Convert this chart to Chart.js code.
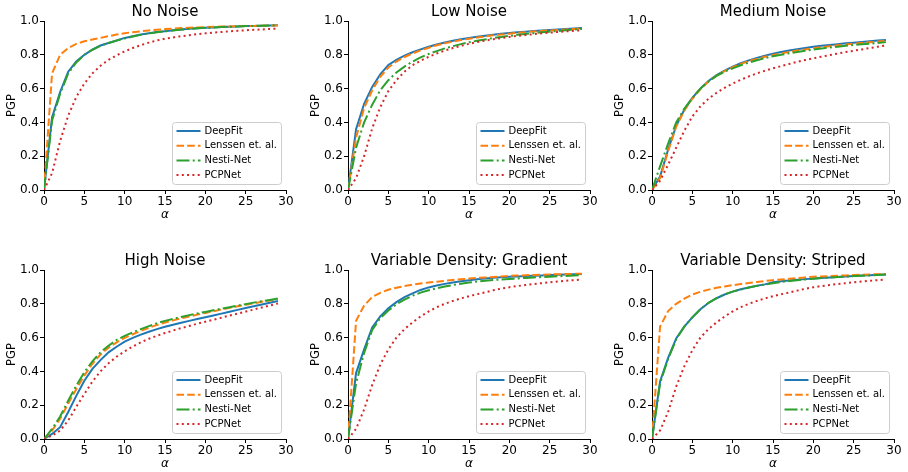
<!DOCTYPE html>
<html>
<head>
<meta charset="utf-8">
<script src="https://cdn.jsdelivr.net/npm/chart.js@4.4.0/dist/chart.umd.min.js"></script>
<style>
  body { margin: 0; background: #fff; width: 908px; height: 472px; overflow: hidden; position: relative; }
  canvas { position: absolute; }
</style>
</head>
<body>
<canvas id="p1" width="300" height="222" style="left:0px;top:0px"></canvas>
<canvas id="p2" width="300" height="222" style="left:304px;top:0px"></canvas>
<canvas id="p3" width="300" height="222" style="left:608px;top:0px"></canvas>
<canvas id="p4" width="300" height="222" style="left:0px;top:249px"></canvas>
<canvas id="p5" width="300" height="222" style="left:304px;top:249px"></canvas>
<canvas id="p6" width="300" height="222" style="left:608px;top:249px"></canvas>
<script>
// angle thresholds (x) shared by every panel
const alphas = [0, 1, 2, 3, 4, 5, 6, 7, 8, 9, 10, 11, 12, 13, 14, 15, 16, 17, 18, 19, 20, 21, 22, 23, 24, 25, 26, 27, 28, 29];
const xTicks = [0, 5, 10, 15, 20, 25, 30];
const yTicks = [0, 0.2, 0.4, 0.6, 0.8, 1.0];
const methods = ['DeepFit', 'Lenssen et. al.', 'Nesti-Net', 'PCPNet'];
const titles = ['No Noise', 'Low Noise', 'Medium Noise', 'High Noise', 'Variable Density: Gradient', 'Variable Density: Striped'];

// No Noise
const noNoiseDeepFit = [0, 0.43, 0.58, 0.70, 0.76, 0.80, 0.83, 0.855, 0.87, 0.885, 0.90, 0.91, 0.92, 0.928, 0.935, 0.94, 0.945, 0.95, 0.954, 0.957, 0.96, 0.962, 0.964, 0.966, 0.968, 0.97, 0.971, 0.972, 0.973, 0.975];
const noNoiseLenssen = [0, 0.69, 0.80, 0.84, 0.865, 0.88, 0.89, 0.90, 0.91, 0.92, 0.928, 0.934, 0.939, 0.944, 0.948, 0.952, 0.955, 0.958, 0.96, 0.962, 0.964, 0.966, 0.967, 0.968, 0.969, 0.97, 0.971, 0.972, 0.973, 0.974];
const noNoiseNesti = [0, 0.41, 0.57, 0.69, 0.755, 0.80, 0.83, 0.853, 0.87, 0.884, 0.897, 0.908, 0.918, 0.926, 0.933, 0.939, 0.944, 0.949, 0.953, 0.957, 0.96, 0.962, 0.964, 0.966, 0.968, 0.97, 0.971, 0.972, 0.973, 0.975];
const noNoisePCP = [0, 0.10, 0.29, 0.44, 0.55, 0.63, 0.69, 0.735, 0.77, 0.797, 0.82, 0.84, 0.857, 0.872, 0.885, 0.895, 0.903, 0.91, 0.916, 0.922, 0.927, 0.931, 0.935, 0.939, 0.942, 0.945, 0.948, 0.95, 0.953, 0.955];

// Low Noise
const lowDeepFit = [0, 0.36, 0.51, 0.61, 0.685, 0.74, 0.77, 0.795, 0.815, 0.832, 0.848, 0.861, 0.873, 0.883, 0.892, 0.90, 0.907, 0.913, 0.919, 0.924, 0.929, 0.933, 0.937, 0.941, 0.944, 0.947, 0.95, 0.953, 0.956, 0.958];
const lowLenssen = [0, 0.31, 0.485, 0.59, 0.67, 0.725, 0.76, 0.787, 0.808, 0.826, 0.842, 0.856, 0.868, 0.878, 0.887, 0.895, 0.902, 0.909, 0.915, 0.92, 0.925, 0.93, 0.934, 0.938, 0.941, 0.944, 0.947, 0.95, 0.953, 0.955];
const lowNesti = [0, 0.25, 0.40, 0.505, 0.59, 0.65, 0.695, 0.73, 0.76, 0.785, 0.805, 0.822, 0.838, 0.851, 0.863, 0.874, 0.883, 0.891, 0.899, 0.906, 0.912, 0.918, 0.923, 0.928, 0.933, 0.937, 0.941, 0.945, 0.949, 0.953];
const lowPCP = [0, 0.07, 0.20, 0.365, 0.49, 0.585, 0.65, 0.70, 0.738, 0.765, 0.788, 0.808, 0.825, 0.84, 0.853, 0.865, 0.875, 0.884, 0.892, 0.899, 0.906, 0.912, 0.917, 0.922, 0.927, 0.931, 0.935, 0.939, 0.942, 0.945];

// Medium Noise
const medDeepFit = [0, 0.08, 0.24, 0.38, 0.475, 0.545, 0.60, 0.645, 0.68, 0.707, 0.73, 0.75, 0.767, 0.782, 0.795, 0.806, 0.816, 0.825, 0.833, 0.84, 0.847, 0.853, 0.858, 0.863, 0.868, 0.872, 0.876, 0.88, 0.884, 0.888];
const medLenssen = [0, 0.07, 0.23, 0.375, 0.47, 0.54, 0.597, 0.642, 0.677, 0.704, 0.727, 0.746, 0.762, 0.776, 0.788, 0.799, 0.808, 0.817, 0.825, 0.832, 0.839, 0.845, 0.851, 0.856, 0.861, 0.866, 0.87, 0.874, 0.878, 0.882];
const medNesti = [0, 0.14, 0.275, 0.40, 0.48, 0.545, 0.60, 0.642, 0.675, 0.70, 0.72, 0.738, 0.754, 0.768, 0.78, 0.791, 0.80, 0.809, 0.817, 0.824, 0.831, 0.837, 0.843, 0.848, 0.853, 0.858, 0.862, 0.866, 0.87, 0.875];
const medPCP = [0, 0.055, 0.15, 0.25, 0.35, 0.435, 0.495, 0.54, 0.575, 0.605, 0.63, 0.652, 0.672, 0.69, 0.706, 0.72, 0.733, 0.746, 0.758, 0.769, 0.779, 0.789, 0.798, 0.807, 0.816, 0.824, 0.832, 0.84, 0.848, 0.856];

// High Noise
const highDeepFit = [0, 0.03, 0.07, 0.16, 0.255, 0.345, 0.415, 0.467, 0.513, 0.546, 0.576, 0.598, 0.618, 0.635, 0.65, 0.664, 0.676, 0.688, 0.699, 0.71, 0.72, 0.731, 0.742, 0.753, 0.764, 0.775, 0.786, 0.796, 0.806, 0.816];
const highLenssen = [0, 0.05, 0.12, 0.21, 0.295, 0.375, 0.445, 0.50, 0.54, 0.572, 0.598, 0.62, 0.64, 0.658, 0.675, 0.689, 0.702, 0.714, 0.725, 0.736, 0.746, 0.756, 0.766, 0.776, 0.785, 0.794, 0.803, 0.812, 0.82, 0.828];
const highNesti = [0, 0.06, 0.133, 0.227, 0.315, 0.395, 0.46, 0.513, 0.552, 0.586, 0.61, 0.631, 0.65, 0.668, 0.685, 0.699, 0.711, 0.722, 0.733, 0.743, 0.752, 0.762, 0.771, 0.78, 0.789, 0.798, 0.807, 0.815, 0.823, 0.831];
const highPCP = [0, 0.02, 0.05, 0.11, 0.19, 0.266, 0.34, 0.40, 0.448, 0.487, 0.519, 0.547, 0.572, 0.593, 0.611, 0.627, 0.642, 0.656, 0.669, 0.682, 0.694, 0.706, 0.718, 0.73, 0.742, 0.754, 0.766, 0.778, 0.79, 0.802];

// Variable Density: Gradient
const gradDeepFit = [0, 0.39, 0.53, 0.66, 0.725, 0.773, 0.81, 0.84, 0.862, 0.882, 0.897, 0.908, 0.918, 0.926, 0.933, 0.94, 0.945, 0.95, 0.954, 0.957, 0.96, 0.962, 0.964, 0.966, 0.968, 0.97, 0.972, 0.973, 0.975, 0.976];
const gradLenssen = [0, 0.70, 0.79, 0.84, 0.865, 0.883, 0.895, 0.905, 0.913, 0.92, 0.926, 0.931, 0.936, 0.941, 0.945, 0.949, 0.953, 0.956, 0.959, 0.962, 0.965, 0.967, 0.969, 0.971, 0.972, 0.974, 0.975, 0.976, 0.977, 0.978];
const gradNesti = [0, 0.33, 0.51, 0.645, 0.715, 0.76, 0.797, 0.825, 0.848, 0.866, 0.88, 0.892, 0.902, 0.911, 0.919, 0.926, 0.932, 0.937, 0.941, 0.944, 0.947, 0.95, 0.953, 0.956, 0.958, 0.96, 0.963, 0.965, 0.968, 0.97];
const gradPCP = [0, 0.06, 0.175, 0.32, 0.44, 0.53, 0.60, 0.65, 0.69, 0.725, 0.755, 0.78, 0.80, 0.817, 0.832, 0.845, 0.857, 0.868, 0.88, 0.89, 0.898, 0.905, 0.911, 0.917, 0.922, 0.927, 0.932, 0.936, 0.94, 0.944];

// Variable Density: Striped
const stripDeepFit = [0, 0.34, 0.48, 0.595, 0.665, 0.72, 0.768, 0.805, 0.833, 0.855, 0.872, 0.886, 0.897, 0.907, 0.915, 0.927, 0.933, 0.938, 0.942, 0.946, 0.95, 0.953, 0.956, 0.959, 0.962, 0.965, 0.967, 0.969, 0.972, 0.974];
const stripLenssen = [0, 0.665, 0.757, 0.80, 0.83, 0.855, 0.871, 0.884, 0.895, 0.903, 0.91, 0.917, 0.923, 0.929, 0.935, 0.94, 0.944, 0.948, 0.952, 0.956, 0.96, 0.962, 0.964, 0.966, 0.968, 0.97, 0.972, 0.974, 0.975, 0.976];
const stripNesti = [0, 0.33, 0.475, 0.59, 0.665, 0.72, 0.768, 0.806, 0.834, 0.856, 0.872, 0.885, 0.896, 0.906, 0.914, 0.922, 0.929, 0.935, 0.94, 0.944, 0.948, 0.952, 0.955, 0.958, 0.961, 0.964, 0.966, 0.968, 0.971, 0.973];
const stripPCP = [0, 0.05, 0.16, 0.31, 0.43, 0.525, 0.60, 0.65, 0.69, 0.725, 0.755, 0.78, 0.80, 0.817, 0.832, 0.845, 0.856, 0.867, 0.878, 0.889, 0.898, 0.905, 0.911, 0.917, 0.922, 0.927, 0.932, 0.936, 0.94, 0.944];

const panels = [
  [noNoiseDeepFit, noNoiseLenssen, noNoiseNesti, noNoisePCP],
  [lowDeepFit, lowLenssen, lowNesti, lowPCP],
  [medDeepFit, medLenssen, medNesti, medPCP],
  [highDeepFit, highLenssen, highNesti, highPCP],
  [gradDeepFit, gradLenssen, gradNesti, gradPCP],
  [stripDeepFit, stripLenssen, stripNesti, stripPCP]
];

const FONT = '"DejaVu Sans", "Liberation Sans", sans-serif';
const colors = ['#1f77b4', '#ff7f0e', '#2ca02c', '#d62728'];
const dashes = [[], [7.5, 3.2], [13, 3.2, 2, 3.2], [2, 3.3]];

// matplotlib style legend box, drawn inside the lower right of the plot
const boxLegend = {
  id: 'boxLegend',
  afterDatasetsDraw(chart) {
    const { ctx, chartArea } = chart;
    const w = 109, h = 62, r = 3;
    const x0 = chartArea.right - 4.5 - w;
    const y0 = chartArea.bottom - 5.5 - h;
    ctx.save();
    ctx.beginPath();
    ctx.moveTo(x0 + r, y0);
    ctx.arcTo(x0 + w, y0, x0 + w, y0 + h, r);
    ctx.arcTo(x0 + w, y0 + h, x0, y0 + h, r);
    ctx.arcTo(x0, y0 + h, x0, y0, r);
    ctx.arcTo(x0, y0, x0 + w, y0, r);
    ctx.closePath();
    ctx.fillStyle = 'rgba(255,255,255,0.8)';
    ctx.fill();
    ctx.strokeStyle = '#cccccc';
    ctx.lineWidth = 1;
    ctx.stroke();
    chart.data.datasets.forEach((ds, i) => {
      const y = y0 + 8.5 + i * 14.7;
      ctx.beginPath();
      ctx.setLineDash(ds.borderDash);
      ctx.strokeStyle = ds.borderColor;
      ctx.lineWidth = ds.borderWidth;
      ctx.moveTo(x0 + 4, y);
      ctx.lineTo(x0 + 28, y);
      ctx.stroke();
      ctx.setLineDash([]);
      ctx.fillStyle = '#000';
      ctx.font = '10px ' + FONT;
      ctx.textBaseline = 'middle';
      ctx.textAlign = 'left';
      ctx.fillText(ds.label, x0 + 32, y);
    });
    ctx.restore();
  }
};

function makePanel(canvasId, title, series) {
  const ctx = document.getElementById(canvasId).getContext('2d');
  return new Chart(ctx, {
    type: 'line',
    data: {
      datasets: series.map((vals, i) => ({
        label: methods[i],
        data: alphas.map((a, k) => ({ x: a, y: vals[k] })),
        borderColor: colors[i],
        backgroundColor: colors[i],
        borderWidth: 2,
        borderDash: dashes[i],
        pointRadius: 0,
        tension: 0,
        fill: false,
        order: 3 - i // later series on top, like matplotlib
      }))
    },
    options: {
      responsive: false,
      animation: false,
      devicePixelRatio: 1,
      layout: { padding: { top: 1, left: 0, right: 14, bottom: 0 } },
      scales: {
        x: {
          type: 'linear',
          min: 0,
          max: 30,
          afterBuildTicks: (s) => { s.ticks = xTicks.map(v => ({ value: v })); },
          afterFit: (s) => { s.height = 32; },
          ticks: { color: '#000', padding: 1, font: { family: FONT, size: 12 } },
          grid: { drawOnChartArea: false, drawTicks: true, tickLength: 4, color: '#000' },
          border: { display: true, color: '#000', width: 1 },
          title: { display: true, text: 'α', color: '#000', padding: { top: 0, bottom: 0 }, font: { family: FONT, size: 12, style: 'italic' } }
        },
        y: {
          min: 0,
          max: 1,
          afterBuildTicks: (s) => { s.ticks = yTicks.map(v => ({ value: v })); },
          afterFit: (s) => { s.width = 44; },
          ticks: { color: '#000', padding: 1, font: { family: FONT, size: 12 }, callback: (v) => Number(v).toFixed(1) },
          grid: { drawOnChartArea: false, drawTicks: true, tickLength: 4, color: '#000' },
          border: { display: true, color: '#000', width: 1 },
          title: { display: true, text: 'PGP', color: '#000', padding: { top: 5, bottom: 0 }, font: { family: FONT, size: 11.5 } }
        }
      },
      plugins: {
        legend: { display: false },
        tooltip: { enabled: false },
        title: {
          display: true,
          text: title,
          fullSize: false,
          color: '#000',
          padding: { top: 2, bottom: 0 },
          font: { family: FONT, size: 15, weight: 'normal' }
        }
      }
    },
    plugins: [boxLegend]
  });
}

panels.forEach((series, i) => makePanel('p' + (i + 1), titles[i], series));
</script>
</body>
</html>
